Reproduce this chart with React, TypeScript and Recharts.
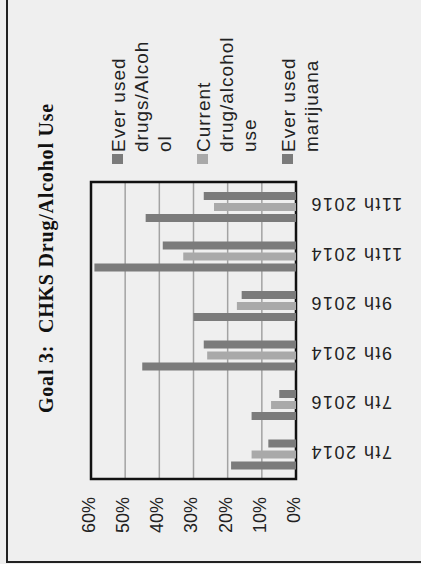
import React from "react";
import { BarChart, Bar, XAxis, YAxis, CartesianGrid, ReferenceArea } from "recharts";

// ---- data ----
const categories = ["7th 2014", "7th 2016", "9th 2014", "9th 2016", "11th 2014", "11th 2016"];
const everUsed = [0.19, 0.13, 0.45, 0.30, 0.59, 0.44];
const currentUse = [0.13, 0.073, 0.26, 0.173, 0.33, 0.24];
const marijuana = [0.081, 0.049, 0.27, 0.159, 0.39, 0.27];
const percentTicks = [0, 0.1, 0.2, 0.3, 0.4, 0.5, 0.6];
const seriesNames = ["Ever used drugs/Alcohol", "Current drug/alcohol use", "Ever used marijuana"];
const legendLines = [
  ["Ever used", "drugs/Alcoh", "ol"],
  ["Current", "drug/alcohol", "use"],
  ["Ever used", "marijuana"],
];
const titleText = "Goal 3:  CHKS Drug/Alcohol Use";

const DARK = "#7b7b7b";
const LIGHT = "#a9a9a9";
const seriesColors = [DARK, LIGHT, DARK];
const SANS = "'Liberation Sans', Arial, sans-serif";

// top of the chart = last category, so build rows in reverse
const data = categories
  .map((cat, i) => ({ cat, ever: everUsed[i], current: currentUse[i], marijuana: marijuana[i] }))
  .reverse();

const PctTick = (props: any) => {
  const { x, y, payload } = props;
  return (
    <text
      transform={`translate(${x},${y + 18}) rotate(-90)`}
      textAnchor="end"
      dy="0.22em"
      fontSize={18}
      fontFamily={SANS}
      fill="#222"
    >
      {`${Math.round(payload.value * 100)}%`}
    </text>
  );
};

const CatTick = (props: any) => {
  const { x, y, payload } = props;
  return (
    <text
      transform={`translate(${x + 14},${y - 2}) rotate(180)`}
      textAnchor="end"
      dy="0.35em"
      fontSize={18}
      letterSpacing={1.5}
      fontFamily={SANS}
      fill="#222"
    >
      {payload.value}
    </text>
  );
};

const Title = () => (
  <text
    transform="translate(53,258) rotate(-90)"
    textAnchor="middle"
    fontSize={20}
    fontWeight="bold"
    letterSpacing={0.8}
    fontFamily="'Liberation Serif', 'Times New Roman', serif"
    fill="#111"
    style={{ whiteSpace: "pre" }}
  >
    {titleText}
  </text>
);

const RotatedLegend = () => (
  <g>
    {seriesNames.map((name, i) => {
      const base = 125 + 85 * i;
      return (
        <g key={name}>
          <rect x={base - 13} y={154} width={11} height={10} fill={seriesColors[i]} />
          {legendLines[i].map((line, j) => (
            <text
              key={j}
              transform={`translate(${base + 23 * j},152) rotate(-90)`}
              textAnchor="start"
              fontSize={19}
              letterSpacing={1}
              fontFamily={SANS}
              fill="#222"
            >
              {line}
            </text>
          ))}
        </g>
      );
    })}
  </g>
);

export default function App() {
  return (
    <div
      style={{
        position: "fixed",
        left: 0,
        top: 0,
        width: 421,
        height: 564,
        background: "#efefef",
        overflow: "hidden",
      }}
    >
      <div
        style={{
          position: "absolute",
          left: 6,
          top: 0,
          width: 415,
          height: 561,
          borderLeft: "2px solid #222",
          borderBottom: "2px solid #222",
        }}
      />
      <div style={{ position: "absolute", left: 0, top: 0 }}>
        <BarChart
          width={421}
          height={564}
          data={data}
          layout="vertical"
          margin={{ top: 182, right: 0, bottom: 0, left: 91 }}
          barSize={8}
          barGap={3}
        >
          <CartesianGrid horizontal={false} stroke="#a3a3a3" strokeWidth={1.5} />
          <XAxis
            type="number"
            domain={[0, 0.6]}
            ticks={percentTicks}
            reversed
            axisLine={false}
            tickLine={false}
            tickSize={0}
            tickMargin={0}
            height={85}
            tick={<PctTick />}
            interval={0}
          />
          <YAxis
            type="category"
            dataKey="cat"
            orientation="right"
            width={125}
            axisLine={false}
            tickLine={false}
            tickSize={0}
            tickMargin={0}
            tick={<CatTick />}
            interval={0}
          />
          <Bar dataKey="marijuana" name={seriesNames[2]} fill={DARK} isAnimationActive={false} />
          <Bar dataKey="current" name={seriesNames[1]} fill={LIGHT} isAnimationActive={false} />
          <Bar dataKey="ever" name={seriesNames[0]} fill={DARK} isAnimationActive={false} />
          <ReferenceArea x1={0} x2={0.6} fill="none" stroke="#111" strokeWidth={2.5} ifOverflow="visible" />
          <Title />
          <RotatedLegend />
        </BarChart>
      </div>
    </div>
  );
}
